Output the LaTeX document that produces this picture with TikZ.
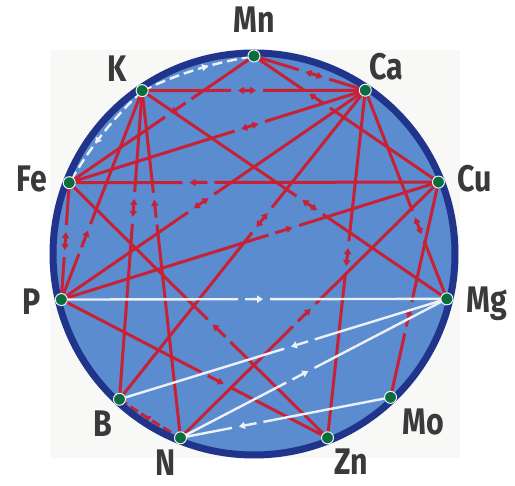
\documentclass[tikz,border=0pt]{standalone}
\usepackage{fontspec}
\usetikzlibrary{calc,arrows.meta,decorations.markings}
\newfontfamily\lblfont{Fira Sans}[FakeStretch=0.82]

\definecolor{sheet}{RGB}{248,248,246}
\definecolor{diskblue}{RGB}{90,140,207}
\definecolor{rimblue}{RGB}{32,52,140}
\definecolor{antred}{RGB}{200,32,52}
\definecolor{synwhite}{RGB}{236,241,250}
\definecolor{dotgreen}{RGB}{10,110,60}
\definecolor{lblgray}{RGB}{58,58,58}

% chord with a gap and an arrow in it: style, from, to, pos, tips
\newcommand{\nlink}[5]{%
  \coordinate (lm) at ($(#2)!#4!(#3)$);
  \draw[#1] (#2) -- ($(lm)!16pt!(#2)$);
  \draw[#1,#5] ($(lm)!9pt!(#2)$) -- ($(lm)!9pt!(#3)$);
  \draw[#1] ($(lm)!16pt!(#3)$) -- (#3);
}

\begin{document}
\begin{tikzpicture}[x=1pt,y=1pt,line join=round,
  >={Triangle[length=6pt,width=7pt]},
  redline/.style={antred,line width=3pt},
  whiteline/.style={synwhite,line width=2.4pt},
  lbl/.style={text=lblgray,anchor=base,inner sep=0pt,
    font=\lblfont\bfseries\fontsize{37}{40}\selectfont}]

\useasboundingbox (0,0) rectangle (515,486);
\fill[sheet] (50,28) rectangle (460,436);

% centre and disk
\coordinate (O) at (254,232);
\fill[diskblue] (O) circle (200);

% vertices
\coordinate (Mn) at ($(O)+(90:198)$);
\coordinate (K)  at ($(O)+(124.4:198)$);
\coordinate (Ca) at ($(O)+(55.8:198)$);
\coordinate (Fe) at ($(O)+(158.9:198)$);
\coordinate (Cu) at ($(O)+(21.3:198)$);
\coordinate (P)  at ($(O)+(193.3:198)$);
\coordinate (Mg) at ($(O)+(346.9:198)$);
\coordinate (B)  at ($(O)+(227.2:198)$);
\coordinate (Mo) at ($(O)+(313.6:198)$);
\coordinate (N)  at ($(O)+(248.2:198)$);
\coordinate (Zn) at ($(O)+(291.8:198)$);

% red edges
\nlink{redline}{K}{Ca}{0.47}{<->}
\nlink{redline}{Mn}{Ca}{0.54}{<->}
\nlink{redline}{Mn}{Fe}{0.41}{->}
\nlink{redline}{Mn}{Cu}{0.34}{<-}
\nlink{redline}{Ca}{Fe}{0.39}{<->}
\nlink{redline}{Ca}{P}{0.54}{<->}
\nlink{redline}{Ca}{B}{0.42}{<->}
\nlink{redline}{Ca}{Zn}{0.48}{<->}
\nlink{redline}{Ca}{Mg}{0.65}{<->}
\nlink{redline}{Fe}{Cu}{0.35}{<-}
\nlink{redline}{Fe}{P}{0.5}{<->}
\nlink{redline}{P}{K}{0.29}{->}
\nlink{redline}{K}{B}{0.38}{<->}
\nlink{redline}{K}{N}{0.34}{<-}
\nlink{redline}{K}{Mg}{0.55}{<->}
\nlink{redline}{P}{Cu}{0.59}{->}
\nlink{redline}{P}{Zn}{0.58}{->}
\nlink{redline}{Fe}{Zn}{0.58}{<-}
\nlink{redline}{N}{Cu}{0.48}{->}
\nlink{redline}{Mo}{Cu}{0.37}{->}
\draw[redline,dash pattern=on 9pt off 4pt,
  decoration={markings,mark=at position 0.5 with {\arrow{<}}},postaction=decorate]
  (B) to[bend right=2] (N);

% white edges
\draw[whiteline,dash pattern=on 10pt off 5pt,
  decoration={markings,mark=at position 0.6 with {\arrow{>}}},postaction=decorate]
  (K) to[bend left=7] (Mn);
\draw[whiteline,dash pattern=on 10pt off 5pt,
  decoration={markings,mark=at position 0.6 with {\arrow{>}}},postaction=decorate]
  (K) to[bend right=7] (Fe);
\nlink{whiteline}{P}{Mg}{0.5}{->}
\nlink{whiteline}{Mg}{B}{0.45}{->}
\nlink{whiteline}{N}{Mg}{0.45}{->}
\nlink{whiteline}{N}{Mo}{0.32}{<-}

% rim
\draw[rimblue,line width=7pt] (O) circle (201);

% vertex dots
\foreach \v in {Mn,K,Ca,Fe,Cu,P,Mg,B,Mo,N,Zn}{
  \filldraw[fill=dotgreen,draw=synwhite,line width=1pt] (\v) circle (6);
}

% labels
\node[lbl] (lMn) at (254,453) {Mn};
\node[lbl] (lK)  at (117,404) {K};
\node[lbl] (lCa) at (386,406) {Ca};
\node[lbl] (lFe) at (32,294) {Fe};
\node[lbl] (lCu) at (475,294) {Cu};
\node[lbl] (lP)  at (32,171) {P};
\node[lbl] (lMg) at (487,173) {Mg};
\node[lbl] (lB)  at (103,49) {B};
\node[lbl] (lMo) at (423,51) {Mo};
\node[lbl] (lN)  at (166,10) {N};
\node[lbl] (lZn) at (351,11) {Zn};

\end{tikzpicture}
\end{document}
